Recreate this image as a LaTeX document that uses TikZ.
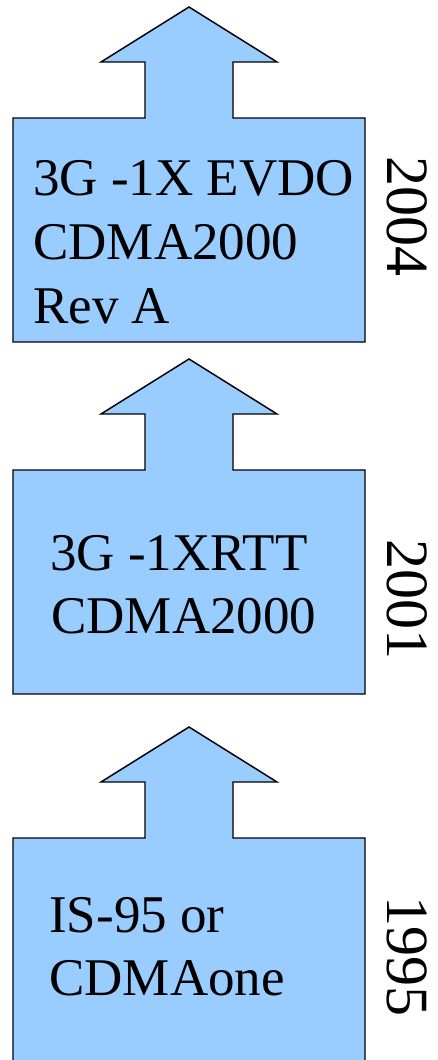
\documentclass[tikz,border=0pt]{standalone}
\usepackage{fontspec}
\setmainfont{Liberation Serif}
\definecolor{stagefill}{HTML}{99CCFF}
\begin{document}
\begin{tikzpicture}[x=0.75pt,y=-0.75pt,
  stagearrow/.style={fill=stagefill,draw=black,line width=1.1pt,line join=miter},
  label/.style={anchor=base west,inner sep=0pt,font=\fontsize{39.75}{48}\selectfont},
  year/.style={anchor=base,inner sep=0pt,rotate=-90,font=\fontsize{45}{54}\selectfont}]
\useasboundingbox (0,0) rectangle (437,1060);
\clip (0,0) rectangle (437,1060);
% one block arrow: box with an upward arrow on top
\newcommand{\stageshape}[4]{% #1 tip y, #2 head base y, #3 box top y, #4 box bottom y
  \path[stagearrow] (13,#3) -- (145,#3) -- (145,#2) -- (101,#2) -- (189,#1)
    -- (277,#2) -- (233,#2) -- (233,#3) -- (365,#3) -- (365,#4) -- (13,#4) -- cycle;}
\stageshape{7}{62}{118}{342}
\stageshape{359}{414}{470}{694}
\stageshape{727}{782}{838}{1080}
% 2004
\node[label] (a1) at (33,195) {3G -1X EVDO};
\node[label] (a2) at (33,259) {CDMA2000};
\node[label] (a3) at (33,323) {Rev A};
\node[year] (ya) at (387,216) {2004};
% 2001
\node[label] (b1) at (50,570) {3G -1XRTT};
\node[label] (b2) at (51,633) {CDMA2000};
\node[year] (yb) at (387,599) {2001};
% 1995
\node[label] (c1) at (49,932) {IS-95 or};
\node[label] (c2) at (49,995) {CDMAone};
\node[year] (yc) at (387,956) {1995};
\end{tikzpicture}
\end{document}
